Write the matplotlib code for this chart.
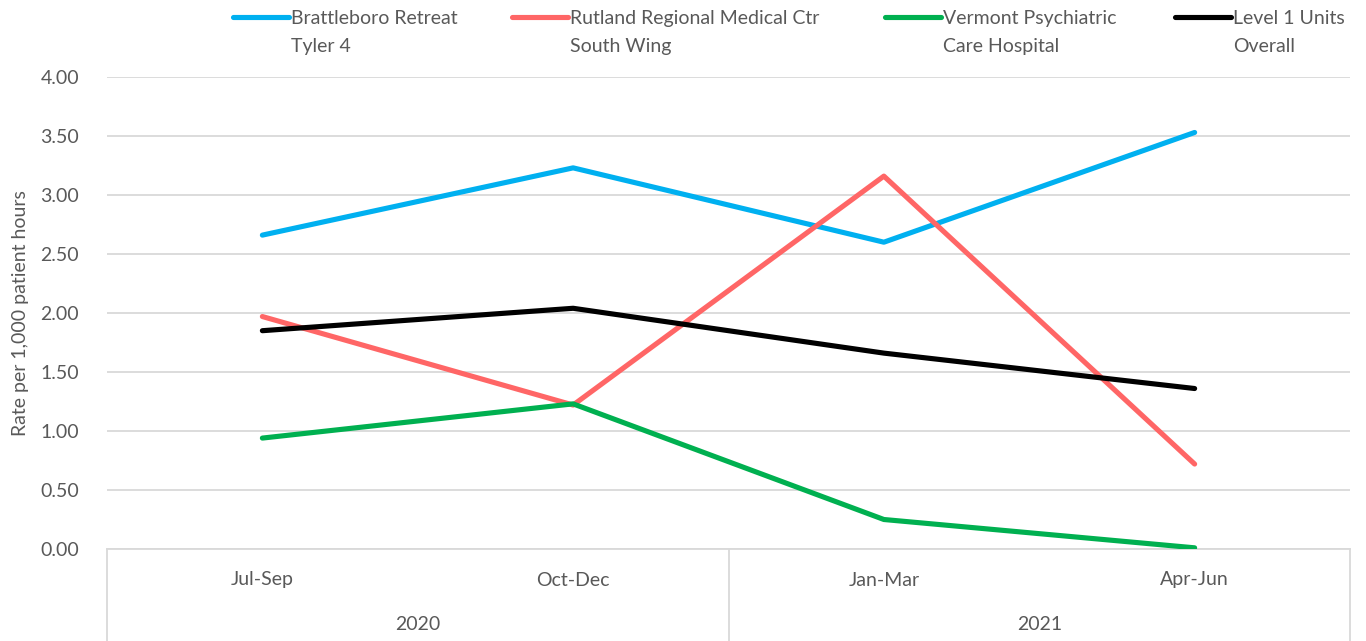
import matplotlib
matplotlib.use("Agg")
import matplotlib.pyplot as plt
from matplotlib.lines import Line2D
from matplotlib.transforms import blended_transform_factory

plt.rcParams["font.family"] = ["Lato", "DejaVu Sans"]

quarters = ["Jul-Sep", "Oct-Dec", "Jan-Mar", "Apr-Jun"]
years = ["2020", "2021"]
series_names = [
    "Brattleboro Retreat\nTyler 4",
    "Rutland Regional Medical Ctr\nSouth Wing",
    "Vermont Psychiatric\nCare Hospital",
    "Level 1 Units\nOverall",
]
brattleboro = [2.66, 3.23, 2.60, 3.53]
rutland = [1.97, 1.22, 3.16, 0.72]
vermont = [0.94, 1.23, 0.25, 0.01]
level1 = [1.85, 2.04, 1.66, 1.36]
colors = ["#00B0F0", "#FF6666", "#00B050", "#000000"]
yticks = [0.0, 0.5, 1.0, 1.5, 2.0, 2.5, 3.0, 3.5, 4.0]

text_color = "#595959"
grid_color = "#D9D9D9"
fs = 14
lw = 3.7

W, H = 1366, 641
fig = plt.figure(figsize=(W / 100, H / 100), dpi=100)
ax = fig.add_axes([107 / W, (H - 549) / H, (1350 - 107) / W, (549 - 77) / H])

x = list(range(len(quarters)))
for vals, c in zip([brattleboro, rutland, vermont, level1], colors):
    ax.plot(x, vals, color=c, linewidth=lw, solid_capstyle="round", zorder=3)

ax.set_xlim(-0.5, len(quarters) - 0.5)
ax.set_ylim(0, 4)
ax.set_yticks(yticks)
ax.set_yticklabels([f"{v:.2f}" for v in yticks], color=text_color, fontsize=fs)
ax.tick_params(axis="y", length=0, pad=20)
ax.set_xticks([])
ax.grid(axis="y", color=grid_color, linewidth=1.3)
ax.set_axisbelow(True)
for s in ["top", "right", "left"]:
    ax.spines[s].set_visible(False)
ax.spines["bottom"].set_color(grid_color)
ax.spines["bottom"].set_linewidth(1.3)
ax.set_ylabel("Rate per 1,000 patient hours", color=text_color, fontsize=fs, labelpad=8)

# two-level category axis
trans = blended_transform_factory(ax.transData, ax.transAxes)
bottom = -92 / (549 - 77)
for i, q in enumerate(quarters):
    ax.text(i, -31 / 472, q, transform=trans, ha="center", va="center",
            color=text_color, fontsize=fs)
for j, yr in enumerate(years):
    ax.text(0.5 + 2 * j, -76 / 472, yr, transform=trans, ha="center", va="center",
            color=text_color, fontsize=fs)
for xv in [-0.5, 1.5, 3.5]:
    ax.add_line(Line2D([xv, xv], [0, bottom], transform=trans, color=grid_color,
                       linewidth=1.3, clip_on=False))

# legend, handle aligned with first text line
leg_x = [233, 512, 885, 1175]
for name, c, lx in zip(series_names, colors, leg_x):
    y1 = 1 - 17 / H
    fig.add_artist(Line2D([lx / W, (lx + 56) / W], [y1, y1], color=c, linewidth=lw,
                          solid_capstyle="round"))
    fig.text((lx + 58) / W, 1 - 17 / H, name.split("\n")[0], ha="left", va="center_baseline",
             color=text_color, fontsize=fs)
    fig.text((lx + 58) / W, 1 - 45 / H, name.split("\n")[1], ha="left", va="center_baseline",
             color=text_color, fontsize=fs)

fig.savefig("out.png", dpi=100)
